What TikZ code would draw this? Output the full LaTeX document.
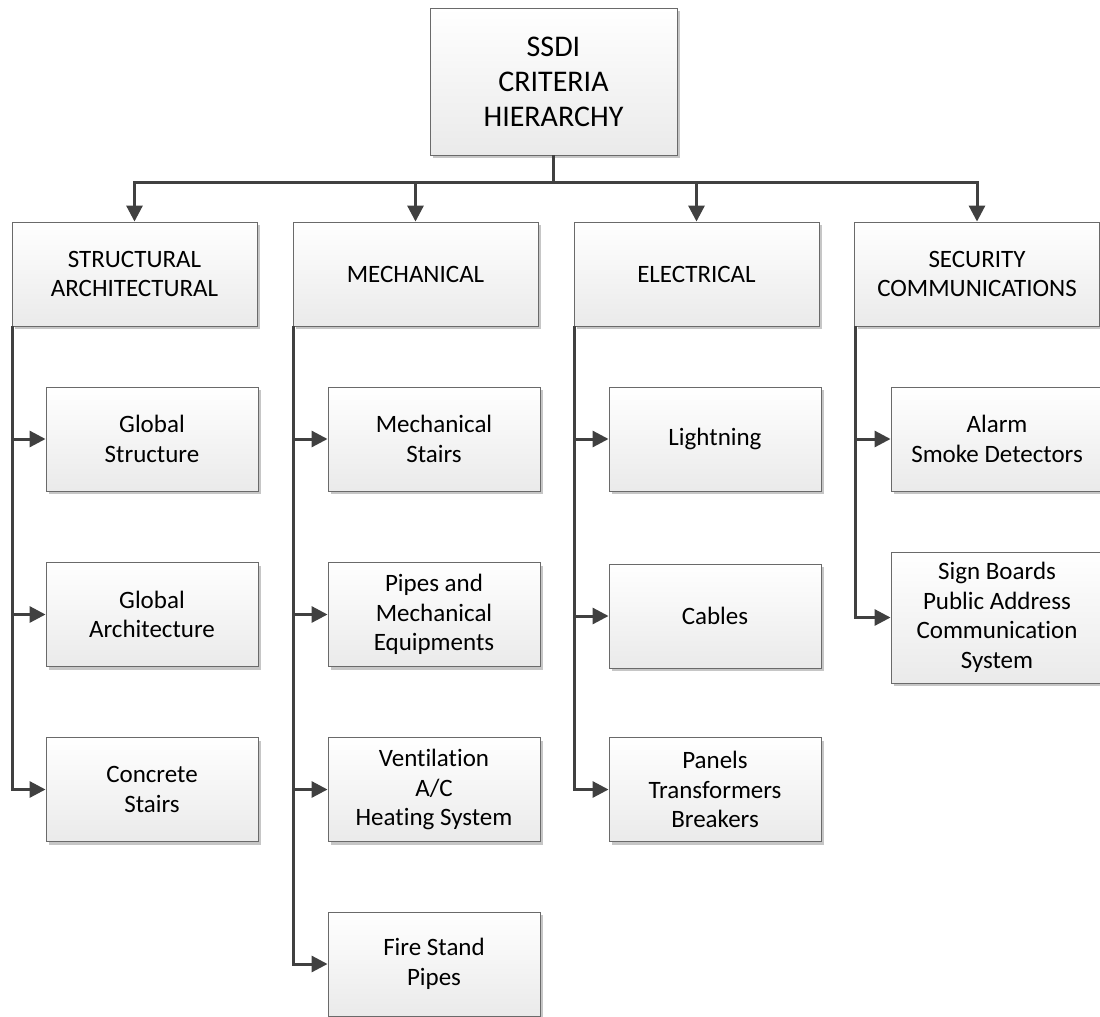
\documentclass[tikz,border=0pt]{standalone}
\usepackage{fontspec}
\setmainfont{Carlito}[Ligatures=NoCommon]
\usetikzlibrary{arrows.meta,shadows}
\definecolor{linegray}{HTML}{404040}
\definecolor{edgegray}{HTML}{6A6A6A}
\definecolor{boxbottom}{HTML}{EAEAEA}
\definecolor{shadowgray}{HTML}{C6C6C6}
\begin{document}
\begin{tikzpicture}[x=1pt,y=-1pt,
  box/.style={draw=edgegray, line width=0.9pt, top color=white, bottom color=boxbottom,
    align=center, inner sep=0pt,
    drop shadow={shadow xshift=3pt, shadow yshift=-3pt, fill=shadowgray, opacity=1}},
  rootbox/.style={box, minimum width=247pt, minimum height=147pt,
    font=\fontsize{30}{35}\selectfont},
  groupbox/.style={box, minimum width=245pt, minimum height=104pt,
    font=\fontsize{25}{29.5}\selectfont},
  itembox/.style={box, minimum width=212pt, minimum height=104pt,
    font=\fontsize{25}{29.5}\selectfont},
  conn/.style={draw=linegray, line width=3pt},
  arr/.style={conn, -{Triangle[length=16pt,width=16pt]}}]

\useasboundingbox (0,0) rectangle (1100,1017);

% root
\node[rootbox] (root) at (553.5,81.5) {SSDI\\CRITERIA\\HIERARCHY};

% main groups
\node[groupbox] (sa) at (134.5,274) {STRUCTURAL\\ARCHITECTURAL};
\node[groupbox] (me) at (415.5,274) {MECHANICAL};
\node[groupbox] (el) at (696.5,274) {ELECTRICAL};
\node[groupbox] (sc) at (977,274) {SECURITY\\COMMUNICATIONS};

% structural / architectural items
\node[itembox] (sa1) at (152,439) {Global\\Structure};
\node[itembox] (sa2) at (152,614.5) {Global\\Architecture};
\node[itembox] (sa3) at (152,789.5) {Concrete\\Stairs};

% mechanical items
\node[itembox] (me1) at (434,439) {Mechanical\\Stairs};
\node[itembox] (me2) at (434,614.5) {Pipes and\\Mechanical\\Equipments};
\node[itembox] (me3) at (434,789.5) {Ventilation\\A/C\\Heating System};
\node[itembox] (me4) at (434,964) {Fire Stand\\Pipes};

% electrical items
\node[itembox] (el1) at (715,439) {Lightning};
\node[itembox] (el2) at (715,616) {Cables};
\node[itembox] (el3) at (715,789.5) {Panels\\Transformers\\Breakers};

% security / communications items
\node[itembox] (sc1) at (997,439) {Alarm\\Smoke Detectors};
\node[itembox, minimum height=131pt] (sc2) at (997,617.5) {Sign Boards\\Public Address\\Communication\\System};

% root to groups
\coordinate (bus) at (553.5,182);
\draw[conn] (root.south) -- (bus);
\foreach \g in {sa,me,el,sc}
  \draw[arr] (bus) -| (\g.north);

% groups to items
\foreach \g/\items in {sa/{sa1,sa2,sa3}, me/{me1,me2,me3,me4}, el/{el1,el2,el3}, sc/{sc1,sc2}}
  \foreach \i in \items
    \draw[arr] ([xshift=1pt]\g.south west) |- (\i.west);

\end{tikzpicture}
\end{document}
